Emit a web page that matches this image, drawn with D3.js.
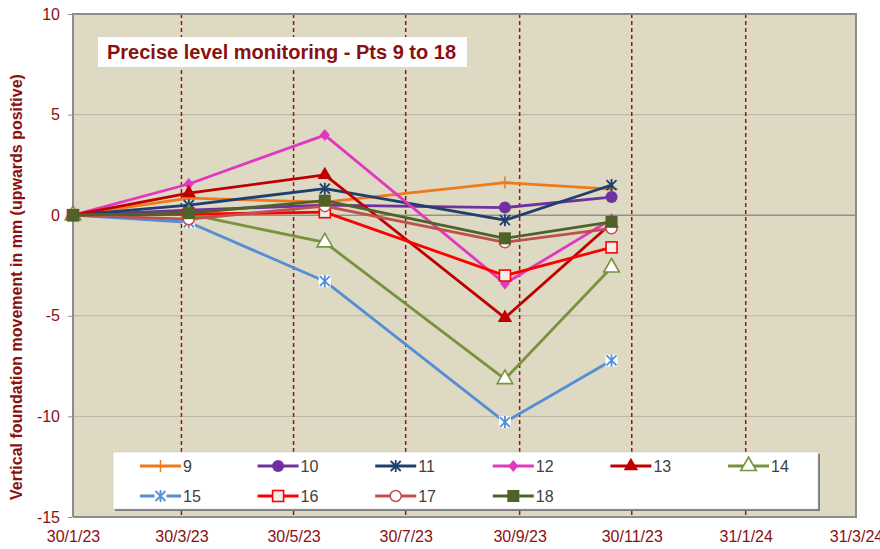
<!DOCTYPE html>
<html>
<head>
<meta charset="utf-8">
<script src="https://cdn.jsdelivr.net/npm/d3@7"></script>
<style>
  body { margin: 0; background: #fff; }
  svg { display: block; font-family: Arial, "Liberation Sans", sans-serif; }
</style>
</head>
<body>
<svg id="chart" width="880" height="549"></svg>
<script>
// survey dates and readings (mm) per point
var surveyDates = ["2023-01-30", "2023-04-03", "2023-06-16", "2023-09-22", "2023-11-19"];
var pointNames = ["9", "10", "11", "12", "13", "14", "15", "16", "17", "18"];
var pt9  = [0, 0.85, 0.65, 1.62, 1.3];
var pt10 = [0, 0.25, 0.5, 0.38, 0.9];
var pt11 = [0, 0.5, 1.32, -0.25, 1.5];
var pt12 = [0, 1.55, 3.98, -3.4, -0.2];
var pt13 = [0, 1.1, 2.0, -5.1, -0.4];
var pt14 = [0, 0.05, -1.35, -8.15, -2.6];
var pt15 = [0, -0.35, -3.28, -10.28, -7.22];
var pt16 = [0, 0.05, 0.15, -3.0, -1.6];
var pt17 = [0, -0.2, 0.45, -1.35, -0.65];
var pt18 = [0, 0.1, 0.72, -1.15, -0.33];
var xTickDates = ["2023-01-30", "2023-03-30", "2023-05-30", "2023-07-30", "2023-09-30", "2023-11-30", "2024-01-31", "2024-03-31"];
var yTicks = [-15, -10, -5, 0, 5, 10];

var seriesValues = [pt9, pt10, pt11, pt12, pt13, pt14, pt15, pt16, pt17, pt18];
var colors = ["#EE7A1E", "#7030A0", "#1F3F6E", "#E336C1", "#C00000", "#77933C", "#558ED5", "#FF0000", "#C0504D", "#4F6228"];
var markers = ["plus", "circle", "star", "diamond", "triangle", "triangleOpen", "starBox", "squareOpen", "circleOpen", "square"];

var parse = d3.timeParse("%Y-%m-%d");
var axisRed = "#8B1010";

var svg = d3.select("#chart");
var margin = {left: 73, top: 14, right: 856, bottom: 517};

var x = d3.scaleTime()
  .domain([parse("2023-01-30"), parse("2024-03-31")])
  .range([margin.left, margin.right]);
var y = d3.scaleLinear().domain([-15, 10]).range([margin.bottom, margin.top]);

// plot background
svg.append("rect")
  .attr("x", margin.left).attr("y", margin.top)
  .attr("width", margin.right - margin.left).attr("height", margin.bottom - margin.top)
  .attr("fill", "#DDD9C3");

// horizontal grid
svg.append("g").selectAll("line")
  .data(yTicks.filter(function (d) { return d !== 0 && d !== 10 && d !== -15; }))
  .enter().append("line")
  .attr("x1", margin.left).attr("x2", margin.right)
  .attr("y1", function (d) { return y(d); }).attr("y2", function (d) { return y(d); })
  .attr("stroke", "#B9B6A6").attr("stroke-width", 1);

// zero line
svg.append("line")
  .attr("x1", margin.left).attr("x2", margin.right)
  .attr("y1", y(0)).attr("y2", y(0))
  .attr("stroke", "#6E6E6E").attr("stroke-width", 1);

// vertical dashed lines
svg.append("g").selectAll("line")
  .data(xTickDates.slice(1))
  .enter().append("line")
  .attr("x1", function (d) { return x(parse(d)); })
  .attr("x2", function (d) { return x(parse(d)); })
  .attr("y1", margin.top).attr("y2", margin.bottom)
  .attr("stroke", "#8B1A1A").attr("stroke-width", 1.5)
  .attr("stroke-dasharray", "4,3");

// border
svg.append("path")
  .attr("d", "M" + margin.left + "," + margin.bottom + "V" + margin.top + "H" + margin.right + "V" + margin.bottom + "H" + margin.left)
  .attr("fill", "none").attr("stroke", "#8C8C8C").attr("stroke-width", 2);

// axes
var yAxis = svg.append("g")
  .attr("transform", "translate(" + (margin.left - 1) + ",0)")
  .call(d3.axisLeft(y).tickValues(yTicks).tickSize(4).tickPadding(8)
    .tickFormat(function (d) { return String(d); }));
var xAxis = svg.append("g")
  .attr("transform", "translate(0," + margin.bottom + ")")
  .call(d3.axisBottom(x).tickValues(xTickDates.map(parse)).tickSize(0).tickPadding(14)
    .tickFormat(d3.timeFormat("%-d/%-m/%y")));
[yAxis, xAxis].forEach(function (a) {
  a.select(".domain").remove();
  a.selectAll("text").attr("fill", axisRed).attr("font-size", 16)
    .attr("font-family", "Arial, 'Liberation Sans', sans-serif");
  a.selectAll(".tick line").attr("stroke", "#8C8C8C");
});

// axis title
svg.append("text")
  .attr("transform", "translate(22,287) rotate(-90)")
  .attr("text-anchor", "middle")
  .attr("font-size", 16).attr("font-weight", "bold")
  .attr("fill", axisRed)
  .text("Vertical foundation movement in mm (upwards positive)");

// marker drawing
function drawMarker(g, type, color) {
  if (type === "plus") {
    g.append("path").attr("d", "M0,-6V6M-6,0H6").attr("stroke", color).attr("stroke-width", 1.5);
  } else if (type === "circle") {
    g.append("circle").attr("r", 6).attr("fill", color);
  } else if (type === "circleOpen") {
    g.append("circle").attr("r", 5.5).attr("fill", "#fff").attr("stroke", color).attr("stroke-width", 1.5);
  } else if (type === "diamond") {
    g.append("path").attr("d", "M0,-6L5,0L0,6L-5,0Z").attr("fill", color);
  } else if (type === "triangle") {
    g.append("path").attr("d", d3.symbol(d3.symbolTriangle, 90)()).attr("fill", color);
  } else if (type === "triangleOpen") {
    g.append("path").attr("d", d3.symbol(d3.symbolTriangle, 105)()).attr("fill", "#fff")
      .attr("stroke", color).attr("stroke-width", 1.6);
  } else if (type === "square") {
    g.append("rect").attr("x", -6).attr("y", -6).attr("width", 12).attr("height", 12).attr("fill", color);
  } else if (type === "squareOpen") {
    g.append("rect").attr("x", -5.5).attr("y", -5.5).attr("width", 11).attr("height", 11)
      .attr("fill", "#EFEFEF").attr("stroke", color).attr("stroke-width", 1.6);
  } else if (type === "star" || type === "starBox") {
    if (type === "starBox") {
      g.append("rect").attr("x", -6).attr("y", -6).attr("width", 12).attr("height", 12).attr("fill", "#fff");
    }
    g.append("path").attr("d", "M-5,-5L5,5M-5,5L5,-5M0,-6V6").attr("stroke", color).attr("stroke-width", 1.8);
  }
}

// series
var line = d3.line()
  .x(function (d) { return x(d.date); })
  .y(function (d) { return y(d.value); });

seriesValues.forEach(function (vals, i) {
  var pts = vals.map(function (v, j) { return {date: parse(surveyDates[j]), value: v}; });
  var g = svg.append("g");
  g.append("path").datum(pts)
    .attr("d", line)
    .attr("fill", "none").attr("stroke", colors[i]).attr("stroke-width", 2.8)
    .attr("stroke-linejoin", "round");
  g.selectAll(".m").data(pts).enter().append("g")
    .attr("transform", function (d) { return "translate(" + x(d.date) + "," + y(d.value) + ")"; })
    .each(function () { drawMarker(d3.select(this), markers[i], colors[i]); });
});

// title box
svg.append("rect").attr("x", 98).attr("y", 37).attr("width", 369).attr("height", 30).attr("fill", "#fff");
svg.append("text").attr("x", 107).attr("y", 59)
  .attr("font-size", 20).attr("font-weight", "bold").attr("fill", "#8B1010")
  .text("Precise level monitoring - Pts 9 to 18");

// legend
var lg = svg.append("g");
lg.append("rect").attr("x", 115).attr("y", 454).attr("width", 705).attr("height", 57).attr("fill", "#7A7A7A");
lg.append("rect").attr("x", 113).attr("y", 452).attr("width", 705).attr("height", 57).attr("fill", "#fff")
  .attr("stroke", "#C8C8C8").attr("stroke-width", 0.5);
pointNames.forEach(function (name, i) {
  var col = i % 6, row = Math.floor(i / 6);
  var lx = 140 + col * 117.6, ly = 466 + row * 30;
  var item = lg.append("g").attr("transform", "translate(" + lx + "," + ly + ")");
  item.append("line").attr("x1", 0).attr("x2", 41).attr("stroke", colors[i]).attr("stroke-width", 2.8);
  drawMarker(item.append("g").attr("transform", "translate(20.5,0)"), markers[i], colors[i]);
  item.append("text").attr("x", 43).attr("y", 6).attr("font-size", 16).attr("fill", "#404040").text(name);
});
</script>
</body>
</html>
